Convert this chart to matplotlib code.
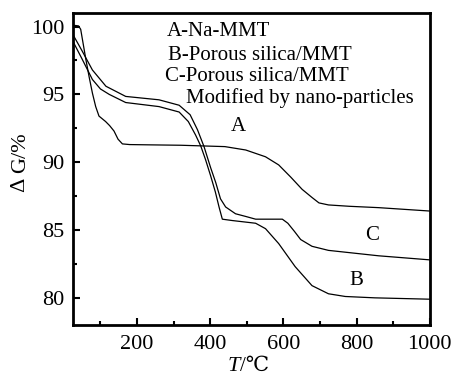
import matplotlib
matplotlib.use("Agg")
import matplotlib.pyplot as plt
from matplotlib.ticker import MultipleLocator

plt.rcParams['font.family'] = ['Liberation Serif', 'DejaVu Serif', 'DejaVu Sans', 'Noto Sans CJK SC']

# curve A: Na-MMT
temp_a = [25, 40, 46, 53, 60, 69, 78, 87, 96, 105, 114, 125, 137, 148, 160, 180, 233, 320, 440,
          497, 551, 587, 620, 651, 678, 697, 723, 780, 860, 1000]
mass_a = [100.1, 100.05, 99.8, 98.7, 97.6, 96.3, 95.1, 94.1, 93.4, 93.2, 93.0, 92.7, 92.3, 91.7, 91.35,
          91.3, 91.28, 91.25, 91.15, 90.9, 90.4, 89.8, 88.9, 88.0, 87.4, 87.0, 86.85, 86.75, 86.65, 86.4]

# curve B: porous silica/MMT
temp_b = [25, 50, 78, 100, 124, 169, 260, 315, 340, 360, 374, 387, 401, 414, 424, 433, 460, 524,
          551, 587, 632, 678, 723, 769, 850, 1000]
mass_b = [98.9, 97.6, 96.1, 95.4, 95.0, 94.4, 94.1, 93.7, 93.0, 92.0, 91.2, 90.2, 89.0, 87.8, 86.7,
          85.8, 85.7, 85.5, 85.1, 84.0, 82.3, 80.9, 80.3, 80.1, 80.0, 79.9]

# curve C: porous silica/MMT modified by nano-particles
temp_c = [25, 50, 78, 115, 169, 260, 315, 345, 365, 383, 401, 415, 428, 442, 469, 497, 524, 597,
          612, 630, 647, 678, 723, 860, 1000]
mass_c = [99.4, 98.2, 96.8, 95.6, 94.85, 94.6, 94.2, 93.5, 92.4, 91.15, 89.6, 88.5, 87.3, 86.7, 86.2,
          86.0, 85.8, 85.8, 85.5, 84.9, 84.3, 83.8, 83.5, 83.1, 82.8]

legend_lines = ["A-Na-MMT", "B-Porous silica/MMT", "C-Porous silica/MMT", "Modified by nano-particles"]
legend_pos = [(282, 99.6), (285, 97.9), (276, 96.3), (334, 94.75)]
curve_labels = ["A", "B", "C"]
curve_label_pos = [(476, 92.6), (798, 81.3), (841, 84.6)]

fig = plt.figure(figsize=(4.52, 3.77), dpi=100)
ax = fig.add_axes([0.1615, 0.138, 0.7895, 0.8275])

for t, m in [(temp_a, mass_a), (temp_b, mass_b), (temp_c, mass_c)]:
    ax.plot(t, m, color='black', lw=0.9)

for txt, (x, y) in zip(legend_lines, legend_pos):
    ax.text(x, y, txt, fontsize=15, ha='left', va='center')
for txt, (x, y) in zip(curve_labels, curve_label_pos):
    ax.text(x, y, txt, fontsize=15, ha='center', va='center')

ax.set_xlim(25, 1000)
ax.set_ylim(78, 101)
ax.xaxis.set_major_locator(MultipleLocator(200))
ax.xaxis.set_minor_locator(MultipleLocator(100))
ax.yaxis.set_major_locator(MultipleLocator(5))
ax.yaxis.set_minor_locator(MultipleLocator(2.5))
ax.tick_params(which='both', direction='in', width=1.5, labelsize=16)
ax.tick_params(which='major', length=5)
ax.tick_params(which='minor', length=3)
ax.tick_params(axis='y', pad=6)
ax.tick_params(axis='x', pad=7)
for s in ax.spines.values():
    s.set_linewidth(2)

# axis labels with italic variable letters
t_lab = fig.text(0.53, 0.003, "T", fontsize=16, style='italic', ha='right', va='bottom')
ax.annotate("/℃", xy=(1, 0), xycoords=t_lab, fontsize=15, ha='left', va='bottom')
d_lab = fig.text(0.046, 0.54, "Δ ", fontsize=16, rotation=90, ha='center', va='top')
ax.annotate("G/%", xy=(0.5, 1), xycoords=d_lab, fontsize=16, rotation=90, ha='center', va='bottom')

fig.savefig("out.png", dpi=100)
